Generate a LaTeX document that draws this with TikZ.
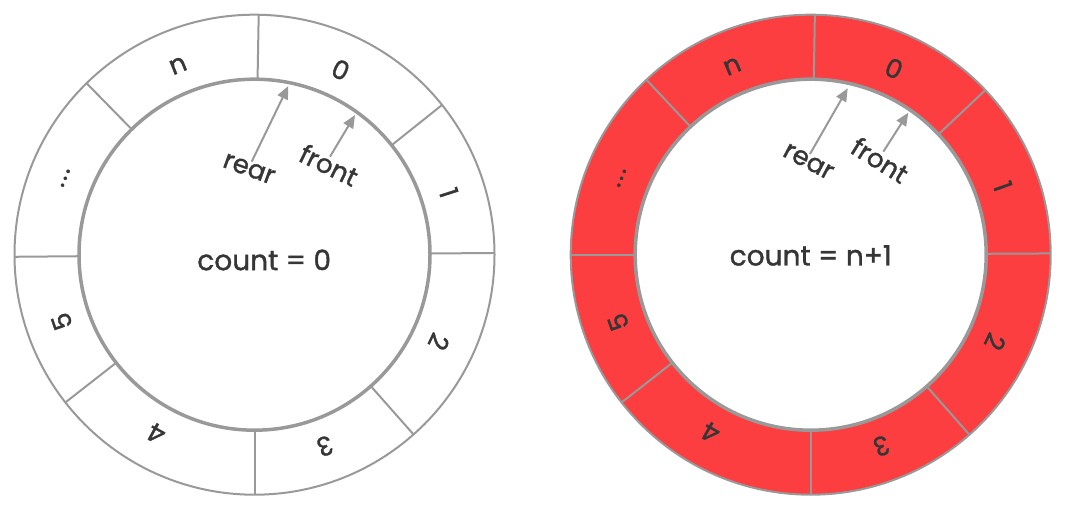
\documentclass[tikz,border=0pt]{standalone}
\usepackage{fontspec}
\setmainfont{Poppins}
\newfontfamily\txtfont{Poppins}[FakeBold=1.3]
\usetikzlibrary{arrows.meta}
\definecolor{ringgray}{HTML}{999999}
\definecolor{ringred}{HTML}{FC3E40}
\definecolor{txt}{HTML}{363636}
\begin{document}
\begin{tikzpicture}[x=1pt,y=1pt,
  outer/.style={draw=ringgray,line width=2pt},
  inner/.style={draw=ringgray,line width=3.5pt},
  divider/.style={draw=ringgray,line width=2pt},
  lbl/.style={text=txt,font=\txtfont\fontsize{26}{26}\selectfont,inner sep=0pt},
  ptr/.style={draw=ringgray,line width=2pt,-{Triangle[length=13pt,width=11pt]}},
  cnt/.style={text=txt,font=\txtfont\fontsize{28}{28}\selectfont,inner sep=0pt}]
\useasboundingbox (0,0) rectangle (1066,516);
% ---------- left ring ----------
\coordinate (c1) at (254.5,261.3);
\foreach \a [count=\i] in {89,38.6,0.4,-48.5,-90,-142,180.5,134.4}
  \draw[divider] ([shift={(\a:175.5)}]c1) -- ([shift={(\a:240)}]c1);
\draw[outer] (c1) circle[radius=240];
\draw[inner] (c1) circle[radius=175.5];
\foreach \a/\t/\n in {112/n/n,65/0/z,17.7/1/a,-25.3/2/b,-69.8/3/c,-118.7/4/d,-160.9/5/e,158/{.\kern2pt.\kern2pt.}/f}
  \node[lbl,rotate=\a-90] (l1\n) at ([shift={(\a:204)}]c1) {\t};
\node[lbl,rotate=-20] (rear1) at (249,347) {rear};
\node[lbl,rotate=-26] (front1) at (329,351) {front};
\coordinate (rt1) at (251.7,354.3);
\coordinate (rh1) at (288.3,430);
\coordinate (ft1) at (330,359.3);
\coordinate (fh1) at (355,401);
\draw[ptr] (rt1) -- (rh1);
\draw[ptr] (ft1) -- (fh1);
\node[cnt] (count1) at (264.2,256) {count = 0};
% ---------- right ring ----------
\coordinate (c2) at (810.7,261.3);
\fill[ringred,even odd rule] (c2) circle[radius=240] (c2) circle[radius=175.5];
\foreach \a [count=\i] in {89,43.3,0.3,-48.6,-90,-142,180,133.2}
  \draw[divider] ([shift={(\a:175.5)}]c2) -- ([shift={(\a:240)}]c2);
\draw[outer] (c2) circle[radius=240];
\draw[inner] (c2) circle[radius=175.5];
\foreach \a/\t/\n in {112.6/n/n,65.9/0/z,19.6/1/a,-25.3/2/b,-69.7/3/c,-119.3/4/d,-160.7/5/e,158/{.\kern2pt.\kern2pt.}/f}
  \node[lbl,rotate=\a-90] (l2\n) at ([shift={(\a:204)}]c2) {\t};
\node[lbl,rotate=-28] (rear2) at (808.3,354.3) {rear};
\node[lbl,rotate=-32] (front2) at (880,356) {front};
\coordinate (rt2) at (810,362);
\coordinate (rh2) at (847.7,427.7);
\coordinate (ft2) at (883.3,364.3);
\coordinate (fh2) at (908.3,403.3);
\draw[ptr] (rt2) -- (rh2);
\draw[ptr] (ft2) -- (fh2);
\node[cnt] (count2) at (810.8,260.5) {count = n+1};
\end{tikzpicture}
\end{document}
